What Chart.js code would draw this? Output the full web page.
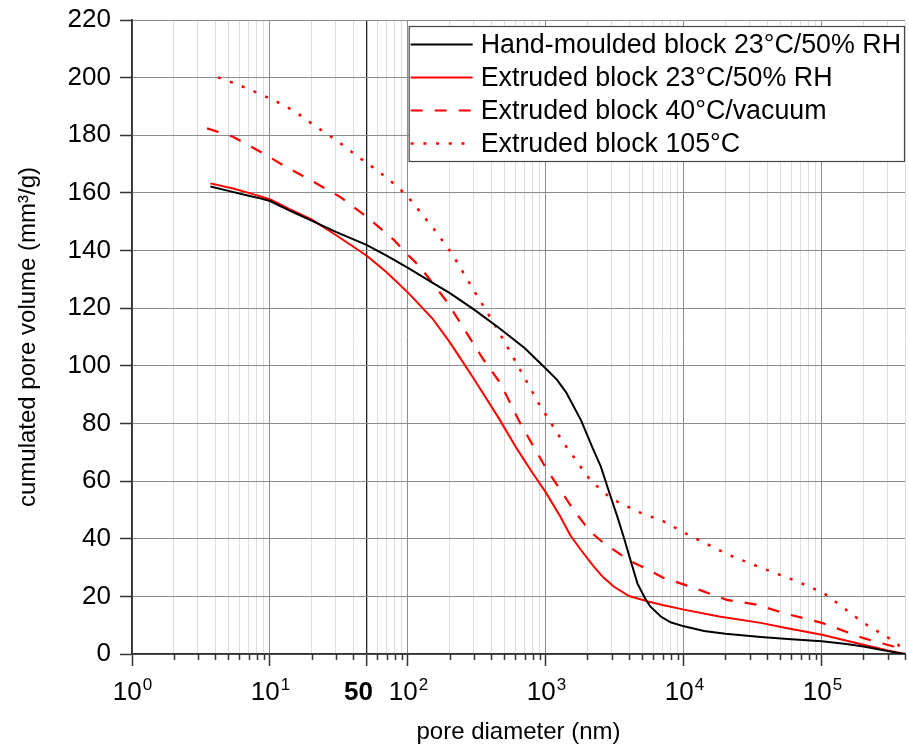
<!DOCTYPE html>
<html>
<head>
<meta charset="utf-8">
<script src="https://cdn.jsdelivr.net/npm/chart.js@4.4.1/dist/chart.umd.min.js"></script>
<style>
  html, body { margin: 0; padding: 0; background: #fff; }
  #wrap { width: 909px; height: 752px; }
</style>
</head>
<body>
<div id="wrap"><canvas id="poreChart" width="909" height="752"></canvas></div>
<script>
// pore diameter (nm) / cumulated pore volume (mm3/g)
var handDiam = [3.7, 5, 7, 8.5, 10, 14, 20, 30, 50, 70, 100, 150, 200, 300, 450, 700, 1000, 1200, 1400, 1800, 2200, 2500, 2900, 3300, 3700, 4100, 4600, 5200, 5700, 6800, 8000, 10000, 14000, 20000, 36000, 60000, 100000, 150000, 200000, 300000, 400000];
var handVol  = [162.2, 160.7, 159.0, 158.1, 157.2, 153.8, 150.4, 146.5, 142, 138.2, 134, 128.9, 125.3, 119.6, 113.4, 106.2, 99, 95.2, 90.8, 81, 71, 65, 55.5, 47.5, 39.8, 32.5, 24.5, 19.5, 16.5, 13, 11, 9.6, 8, 7, 5.9, 5.1, 4.4, 3.5, 2.6, 1, 0];

var ext23Diam = [3.7, 5.4, 7, 10, 14, 20, 30, 50, 70, 100, 150, 200, 240, 300, 450, 620, 800, 1000, 1270, 1500, 1800, 2200, 2600, 3100, 4000, 5500, 7000, 10000, 18000, 36000, 55000, 100000, 200000, 300000, 400000];
var ext23Vol  = [163.3, 161.5, 160, 157.8, 154.3, 150.8, 145.4, 138.3, 132.5, 125.4, 116.5, 108.3, 102.6, 95.5, 82.2, 71, 62.8, 56, 47.7, 41.2, 36, 30.6, 26.6, 23.4, 20.1, 18.2, 17, 15.4, 13, 10.8, 9, 6.7, 3.2, 1.2, 0];

var ext40Diam = [3.5, 5.4, 8.5, 13, 20.6, 32, 50, 79, 100, 122, 192, 220, 353, 467, 650, 813, 1000, 1270, 1585, 2090, 2620, 3650, 4400, 5250, 7120, 11100, 20400, 34000, 52700, 100000, 200000, 330000, 400000];
var ext40Vol  = [182.4, 179.5, 174.3, 169.1, 163.9, 158.7, 151.8, 143.7, 138.5, 134.4, 122.2, 117.7, 102.1, 94, 80.1, 72, 64.5, 57, 50, 42.5, 38.5, 33.8, 31.5, 29.8, 26.4, 23.4, 18.8, 17.1, 14.2, 10.8, 5.5, 2.6, 0];

var ext105Diam = [4.2, 5.4, 6.8, 8.5, 10.6, 13.2, 16.5, 20, 24.5, 30, 37, 45, 55, 66, 81, 99, 153, 208, 299, 441, 632, 912, 1343, 2090, 2925, 4570, 7120, 10700, 21100, 33000, 66000, 103000, 200000, 350000, 400000];
var ext105Vol  = [200.1, 198.2, 196.3, 194.3, 192.2, 189.9, 187, 184.1, 181.2, 178.4, 175.1, 172, 169.1, 166.2, 162.8, 158.9, 147.7, 139, 126.3, 113, 99.7, 85.9, 73.2, 60.4, 54.1, 49.5, 46, 41.4, 34.4, 30.7, 25.2, 21.2, 10.8, 3.8, 0];

var seriesNames = ['Hand-moulded block 23°C/50% RH', 'Extruded block 23°C/50% RH', 'Extruded block 40°C/vacuum', 'Extruded block 105°C'];

// labelled x ticks: base text and exponent (empty for the plain "50")
var xLabelValues = [1, 10, 50, 100, 1000, 10000, 100000];
var xLabelBases  = ['10', '10', '50', '10', '10', '10', '10'];
var xLabelExps   = ['0', '1', '', '2', '3', '4', '5'];

var FONT = '"Liberation Sans", Arial, sans-serif';

function zip(xs, ys) {
    return xs.map(function (x, i) { return { x: x, y: ys[i] }; });
}
function isDecade(v) {
    var l = Math.log10(v);
    return Math.abs(l - Math.round(l)) < 1e-9;
}

Chart.defaults.font.family = FONT;
Chart.defaults.font.size = 26;
Chart.defaults.color = '#000';

// short minor tick marks on both axes, and the x labels with raised exponents
var axisExtras = {
    id: 'axisExtras',
    afterDraw: function (chart) {
        var c = chart.ctx, xs = chart.scales.x, ys = chart.scales.y;
        c.save();
        c.strokeStyle = '#333';
        c.lineWidth = 1.5;
        c.beginPath();
        xs.ticks.forEach(function (t) {
            if (isDecade(t.value) || t.value === 50) return;
            var px = Math.round(xs.getPixelForValue(t.value)) + 0.5;
            c.moveTo(px, xs.top);
            c.lineTo(px, xs.top + 6);
        });
        ys.ticks.forEach(function (t) {
            if (t.value % 20 === 0) return;
            var py = Math.round(ys.getPixelForValue(t.value)) + 0.5;
            c.moveTo(ys.right, py);
            c.lineTo(ys.right - 6, py);
        });
        c.stroke();

        var base = xs.top + 46;
        c.fillStyle = '#000';
        c.textBaseline = 'alphabetic';
        c.textAlign = 'left';
        xLabelValues.forEach(function (v, i) {
            var px = xs.getPixelForValue(v);
            var bold = xLabelExps[i] === '';
            c.font = (bold ? 'bold ' : '') + '26px ' + FONT;
            var wb = c.measureText(xLabelBases[i]).width;
            c.font = '17px ' + FONT;
            var we = c.measureText(xLabelExps[i]).width;
            var x0 = px - (wb + we) / 2 - (bold ? 8 : 0);
            c.font = (bold ? 'bold ' : '') + '26px ' + FONT;
            c.fillText(xLabelBases[i], x0, base);
            if (!bold) {
                c.font = '17px ' + FONT;
                c.fillText(xLabelExps[i], x0 + wb + 1, base - 10);
            }
        });
        c.restore();
    }
};

// boxed legend in the upper right of the plot
var boxLegend = {
    id: 'boxLegend',
    afterDraw: function (chart) {
        var c = chart.ctx, area = chart.chartArea;
        var rowH = 33, lineW = 62;
        c.save();
        c.font = '26.8px ' + FONT;
        var maxW = 0;
        chart.data.datasets.forEach(function (ds) {
            maxW = Math.max(maxW, c.measureText(ds.label).width);
        });
        var w = 2 + lineW + 8 + maxW + 4;
        var h = rowH * chart.data.datasets.length + 4;
        var left = area.right - w, top = area.top + 6;
        c.fillStyle = '#fff';
        c.fillRect(left, top, w, h);
        c.strokeStyle = '#444';
        c.lineWidth = 1.2;
        c.strokeRect(left + 0.5, top + 0.5, w - 1, h - 1);
        chart.data.datasets.forEach(function (ds, i) {
            var cy = top + 18.5 + i * rowH;
            c.beginPath();
            c.strokeStyle = ds.borderColor;
            c.lineWidth = ds.borderWidth;
            c.setLineDash(ds.borderDash || []);
            c.moveTo(left + 2, cy);
            c.lineTo(left + 2 + lineW, cy);
            c.stroke();
            c.setLineDash([]);
            c.fillStyle = '#000';
            c.textBaseline = 'middle';
            c.fillText(ds.label, left + 2 + lineW + 8, cy + 1);
        });
        c.restore();
    }
};

var ctx = document.getElementById('poreChart').getContext('2d');

var poreChart = new Chart(ctx, {
    type: 'line',
    data: {
        datasets: [{
            label: seriesNames[0],
            data: zip(handDiam, handVol),
            borderColor: '#000',
            borderWidth: 2
        }, {
            label: seriesNames[1],
            data: zip(ext23Diam, ext23Vol),
            borderColor: '#ff0000',
            borderWidth: 2
        }, {
            label: seriesNames[2],
            data: zip(ext40Diam, ext40Vol),
            borderColor: '#ff0000',
            borderWidth: 2.2,
            borderDash: [12, 12]
        }, {
            label: seriesNames[3],
            data: zip(ext105Diam, ext105Vol),
            borderColor: '#ff0000',
            borderWidth: 2.5,
            borderDash: [3, 9.7]
        }]
    },
    options: {
        responsive: false,
        animation: false,
        devicePixelRatio: 1,
        layout: { padding: { top: 20, right: 4, left: 0, bottom: 0 } },
        elements: {
            point: { radius: 0 },
            line: { tension: 0, fill: false }
        },
        plugins: {
            legend: { display: false },
            tooltip: { enabled: false }
        },
        scales: {
            x: {
                type: 'logarithmic',
                min: 1,
                max: 400000,
                afterBuildTicks: function (scale) {
                    var t = [];
                    for (var p = 1; p <= 100000; p *= 10) {
                        for (var m = 1; m <= 9; m++) {
                            if (m * p <= 400000) t.push({ value: m * p });
                        }
                    }
                    scale.ticks = t;
                },
                afterFit: function (scale) {
                    scale.height = 98;
                    scale.paddingLeft = 0;
                    scale.paddingRight = 0;
                },
                border: { color: '#333', width: 1.8 },
                grid: {
                    color: function (c) {
                        var v = c.tick && c.tick.value;
                        if (v === 50) return '#222';
                        return isDecade(v) ? '#8c8c8c' : '#dedede';
                    },
                    lineWidth: function (c) { return c.tick && c.tick.value === 50 ? 1.3 : 1; },
                    tickLength: 12,
                    tickColor: function (c) {
                        var v = c.tick && c.tick.value;
                        return (isDecade(v) || v === 50) ? '#333' : 'rgba(0,0,0,0)';
                    },
                    tickWidth: 1.5
                },
                ticks: {
                    autoSkip: false,
                    maxRotation: 0,
                    callback: function () { return ''; }
                },
                title: {
                    display: true,
                    text: 'pore diameter (nm)',
                    font: { size: 24 },
                    padding: { top: 0, bottom: 5 }
                }
            },
            y: {
                min: 0,
                max: 220,
                afterFit: function (scale) {
                    scale.width = 132;
                    scale.paddingTop = 0;
                    scale.paddingBottom = 0;
                },
                border: { color: '#333', width: 1.8 },
                grid: {
                    color: function (c) {
                        return c.tick && c.tick.value % 20 === 0 ? '#8c8c8c' : 'rgba(0,0,0,0)';
                    },
                    tickLength: 12,
                    tickColor: function (c) {
                        return c.tick && c.tick.value % 20 === 0 ? '#333' : 'rgba(0,0,0,0)';
                    },
                    tickWidth: 1.5
                },
                ticks: {
                    stepSize: 10,
                    padding: 9,
                    callback: function (value) { return value % 20 === 0 ? value : ''; }
                },
                title: {
                    display: true,
                    text: 'cumulated pore volume (mm³/g)',
                    font: { size: 24 },
                    padding: { top: 14, bottom: 0 }
                }
            }
        }
    },
    plugins: [axisExtras, boxLegend]
});
</script>
</body>
</html>
